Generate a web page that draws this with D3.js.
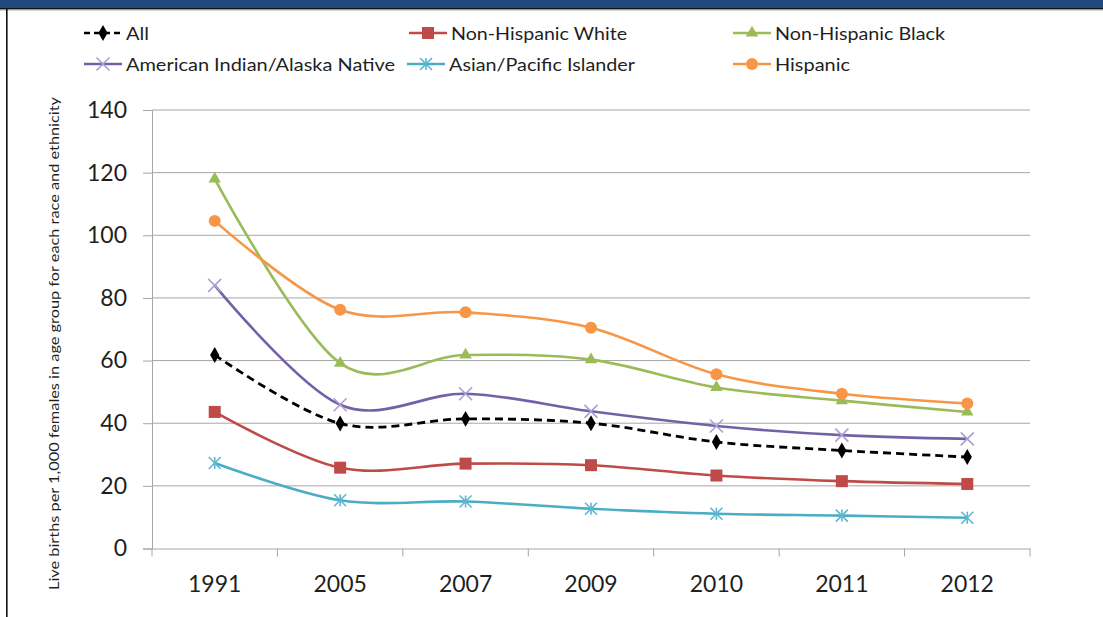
<!DOCTYPE html>
<html><head><meta charset="utf-8">
<script src="https://cdn.jsdelivr.net/npm/d3@7"></script>
<style>
html,body{margin:0;padding:0;background:#fff;}
svg{display:block;}
text{font-family:Lato,"Open Sans",sans-serif;}
</style></head>
<body>
<svg id="chart" width="1103" height="617"></svg>
<script>
const years = ["1991","2005","2007","2009","2010","2011","2012"];
const yTicks = [0,20,40,60,80,100,120,140];
const seriesNames = ["All","Non-Hispanic White","Non-Hispanic Black","American Indian/Alaska Native","Asian/Pacific Islander","Hispanic"];
const allValues      = [61.8, 39.9, 41.4, 40.0, 34.0, 31.3, 29.2];
const whiteValues    = [43.6, 25.8, 27.1, 26.6, 23.3, 21.5, 20.6];
const blackValues    = [118.0, 59.2, 61.8, 60.3, 51.4, 47.2, 43.6];
const aianValues     = [84.0, 45.9, 49.4, 43.8, 39.1, 36.2, 35.0];
const apiValues      = [27.3, 15.4, 15.0, 12.7, 11.1, 10.5, 9.8];
const hispanicValues = [104.6, 76.2, 75.4, 70.5, 55.6, 49.4, 46.3];
const yTitle = "Live births per 1,000 females in age group for each race and ethnicity";

(function(){
const seriesValues = [allValues, whiteValues, blackValues, aianValues, apiValues, hispanicValues];
const styles = [
  {line:"#000000", mark:"#000000", sym:"diamond", dash:"8,5"},
  {line:"#be4b48", mark:"#be4b48", sym:"square", dash:null},
  {line:"#9bbb59", mark:"#9bbb59", sym:"triangle", dash:null},
  {line:"#7460a6", mark:"#ab9fd2", sym:"x", dash:null},
  {line:"#4bacc6", mark:"#5fb6d0", sym:"asterisk", dash:null},
  {line:"#f79646", mark:"#f79646", sym:"circle", dash:null}
];

const svg = d3.select("#chart");
// frame
svg.append("rect").attr("x",0).attr("y",0).attr("width",1103).attr("height",8).attr("fill","#1f497d");
svg.append("rect").attr("x",0).attr("y",8).attr("width",1103).attr("height",1.5).attr("fill","#111");
svg.append("rect").attr("x",0).attr("y",9.5).attr("width",1103).attr("height",1).attr("fill","#aaa");
svg.append("rect").attr("x",6).attr("y",8).attr("width",1.6).attr("height",609).attr("fill","#111");

const pLeft = 152, pRight = 1030, pTop = 110, pBottom = 548.5;
const x = d3.scaleBand().domain(years).range([pLeft, pRight]);
const y = d3.scaleLinear().domain([0,140]).range([pBottom, pTop]);

// gridlines
svg.append("g").selectAll("line").data(yTicks.filter(d=>d>0)).join("line")
  .attr("x1",pLeft).attr("x2",pRight).attr("y1",d=>y(d)).attr("y2",d=>y(d))
  .attr("stroke","#a6a6a6").attr("stroke-width",1);

// y axis
const yAxis = svg.append("g").attr("transform",`translate(${pLeft},0)`)
  .call(d3.axisLeft(y).tickValues(yTicks).tickSize(9).tickPadding(16));
yAxis.select(".domain").attr("stroke","#a6a6a6");
yAxis.selectAll(".tick line").attr("stroke","#a6a6a6");
yAxis.selectAll(".tick text").attr("font-size",23).attr("fill","#1f1f1f")
  .style("font-family","Lato, sans-serif");

// x axis
const xAxis = svg.append("g").attr("transform",`translate(0,${pBottom})`)
  .call(d3.axisBottom(x).tickSize(0).tickPadding(27));
xAxis.select(".domain").attr("stroke","#a6a6a6");
xAxis.selectAll(".tick text").attr("font-size",23).attr("fill","#1f1f1f")
  .style("font-family","Lato, sans-serif");
const bounds = years.map(d=>x(d)).concat([pRight]);
svg.append("g").selectAll("line").data(bounds).join("line")
  .attr("x1",d=>d).attr("x2",d=>d).attr("y1",pBottom).attr("y2",pBottom+8)
  .attr("stroke","#a6a6a6").attr("stroke-width",1);

// y title
svg.append("text").attr("transform",`translate(59,${(97+590)/2}) rotate(-90)`)
  .attr("text-anchor","middle").attr("font-size",14).attr("fill","#1f1f1f")
  .attr("textLength",493).attr("lengthAdjust","spacingAndGlyphs").text(yTitle);

function marker(g, type, color, size){
  if(type==="diamond"){
    g.append("path").attr("d",d3.symbol(d3.symbolDiamond, size*size*0.9)()).attr("fill",color);
  } else if(type==="square"){
    g.append("rect").attr("x",-size/2).attr("y",-size/2).attr("width",size).attr("height",size).attr("fill",color);
  } else if(type==="triangle"){
    g.append("path").attr("d",d3.symbol(d3.symbolTriangle, size*size*0.55)()).attr("fill",color);
  } else if(type==="circle"){
    g.append("circle").attr("r",size/2).attr("fill",color);
  } else if(type==="x"){
    const s=size/2;
    g.append("path").attr("d",`M${-s},${-s}L${s},${s}M${-s},${s}L${s},${-s}`).attr("stroke",color).attr("stroke-width",1.6);
  } else if(type==="asterisk"){
    const s=size/2;
    g.append("path").attr("d",`M${-s},${-s}L${s},${s}M${-s},${s}L${s},${-s}M0,${-s}L0,${s}`).attr("stroke",color).attr("stroke-width",1.6);
  }
}
const markSize = [9,12,11,13,12,12];

const line = d3.line().x((d,i)=>x(years[i])+x.bandwidth()/2).y(d=>y(d)).curve(d3.curveCardinal.tension(0));
seriesValues.forEach((vals,si)=>{
  const st = styles[si];
  svg.append("path").datum(vals).attr("d",line).attr("fill","none")
    .attr("stroke",st.line).attr("stroke-width",si===0?2.8:2.6)
    .attr("stroke-dasharray",st.dash);
});
seriesValues.forEach((vals,si)=>{
  const st = styles[si];
  vals.forEach((v,i)=>{
    const g = svg.append("g").attr("transform",`translate(${x(years[i])+x.bandwidth()/2},${y(v)})`);
    marker(g, st.sym, st.mark, markSize[si]);
  });
});

// legend
const legendPos = [[84,33],[409,33],[733,33],[84,64],[407,64],[733,64]];
const legendTextW = [23,176,170,269,186,75];
seriesNames.forEach((name,si)=>{
  const st = styles[si];
  const [lx,ly] = legendPos[si];
  const w = 38;
  const g = svg.append("g").attr("transform",`translate(${lx},${ly})`);
  g.append("line").attr("x1",0).attr("x2",w).attr("y1",0).attr("y2",0)
    .attr("stroke",st.line).attr("stroke-width",2.6).attr("stroke-dasharray",st.dash?"6,4":null);
  const mg = g.append("g").attr("transform",`translate(${w/2},0)`);
  marker(mg, st.sym, st.mark, markSize[si]);
  g.append("text").attr("x",w+4).attr("y",6.5).attr("font-size",18).attr("fill","#1f1f1f")
    .attr("textLength",legendTextW[si]).attr("lengthAdjust","spacingAndGlyphs").text(name);
});
})();
</script>
</body></html>
